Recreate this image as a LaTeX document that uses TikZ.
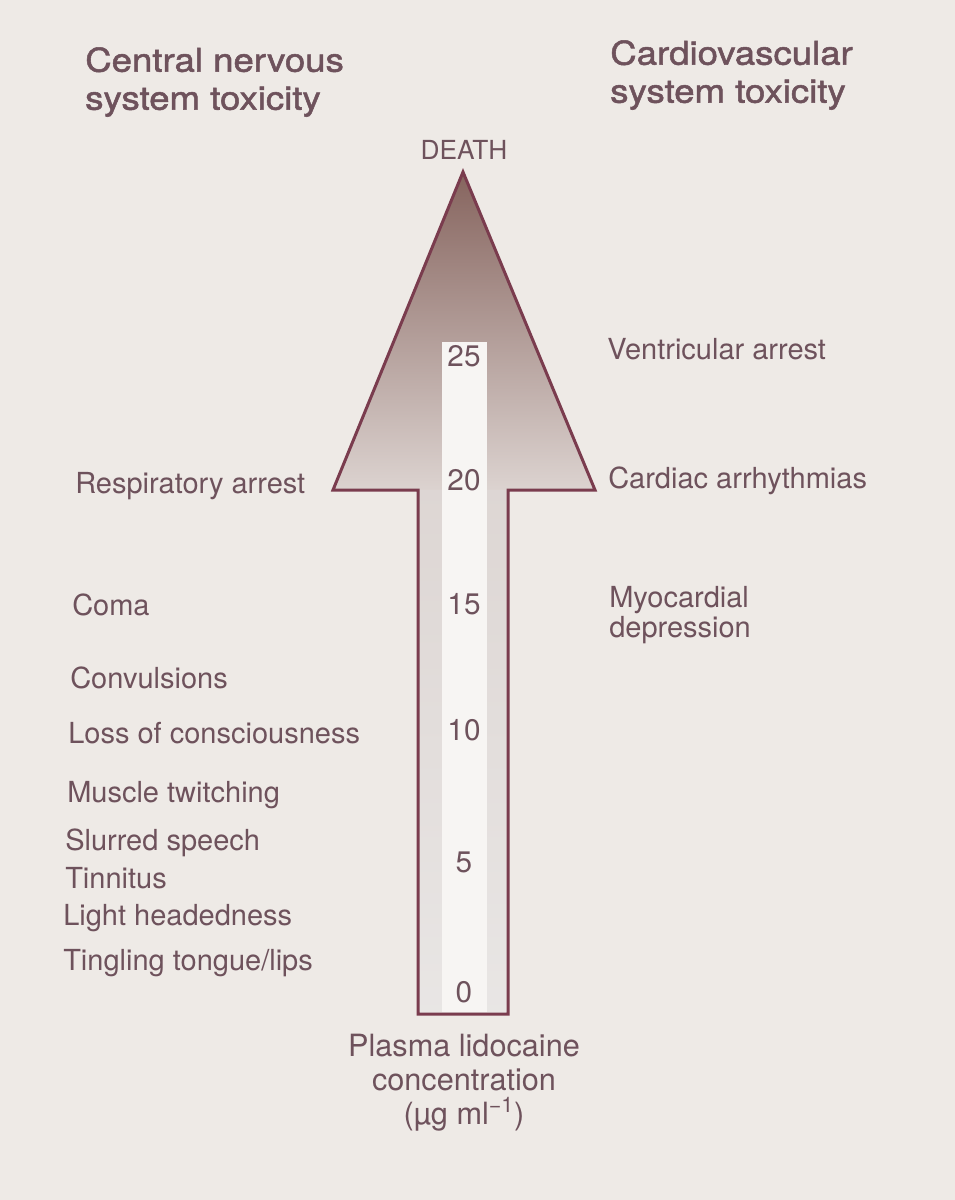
\documentclass[tikz,border=0pt]{standalone}
\usepackage{fontspec}
\setmainfont{TeX Gyre Heros}
\newfontfamily\headfont[FakeStretch=1.12,FakeBold=1.6]{TeX Gyre Heros}
\usetikzlibrary{calc, positioning}

\begin{document}
\begin{tikzpicture}[x=0.75pt,y=-0.75pt]
\definecolor{paper}{HTML}{EEEAE6}
\definecolor{outline}{HTML}{7A3C4E}
\definecolor{labeltext}{HTML}{6E525C}
\definecolor{headtop}{HTML}{86645E}
\definecolor{headlow}{HTML}{DCD3D0}
\definecolor{shaftgray}{HTML}{DFDBD9}
\definecolor{stripwhite}{HTML}{F7F5F3}
\tikzset{
  lbl/.style={anchor=base west, inner sep=0pt, text=labeltext,
    font=\fontsize{21.75}{22.5}\selectfont},
  hdr/.style={anchor=north west, inner sep=0pt, align=left, text=labeltext,
    font=\headfont\fontsize{24.5}{28.5}\selectfont},
  num/.style={anchor=base, inner sep=0pt, text=labeltext,
    font=\fontsize{22.3}{24}\selectfont},
}
\useasboundingbox (0,0) rectangle (955,1200);
\fill[paper] (0,0) rectangle (955,1200);

\coordinate (tip) at (463,172);
\coordinate (barbL) at (333,490);
\coordinate (barbR) at (595,490);
\coordinate (SL) at (418,490);
\coordinate (SR) at (508,490);
\coordinate (BL) at (418,1014);
\coordinate (BR) at (508,1014);

% arrow body
\shade[top color=headtop, bottom color=headlow] (tip) -- (barbR) -- (barbL) -- cycle;
\shade[top color=headlow!60!shaftgray, bottom color=shaftgray!70!white] (SL) rectangle (BR);
\fill[stripwhite] (442,342) rectangle (487,1012);
\draw[outline, line width=2.25pt, line join=miter]
  (tip) -- (barbR) -- (SR) -- (BR) -- (BL) -- (SL) -- (barbL) -- cycle;

% scale
\foreach \v/\y in {0/1002,5/872,10/740,15/614,20/490,25/366}{
  \node[num] (n\v) at (464,\y) {\v};
}
\node[num, font=\fontsize{19.7}{22}\selectfont] (death) at (464,159) {DEATH};
\node[anchor=north, inner sep=0pt, align=center, text=labeltext,
  font=\fontsize{23}{25.5}\selectfont] (conc) at (464,1034)
  {Plasma lidocaine\\concentration\\(µg ml\textsuperscript{−1})};

% headings
\node[hdr] (cnshead) at (85,47) {Central nervous\\system toxicity};
\node[hdr] (cvshead) at (610,40) {Cardiovascular\\system toxicity};

% CNS signs
\node[lbl] (resp) at (75,493) {Respiratory arrest};
\node[lbl] (coma) at (72,615) {Coma};
\node[lbl] (conv) at (70,688) {Convulsions};
\node[lbl] (loss) at (68,743) {Loss of consciousness};
\node[lbl] (twitch) at (67,802) {Muscle twitching};
\node[lbl] (slur) at (65,850) {Slurred speech};
\node[lbl] (tinn) at (65,888) {Tinnitus};
\node[lbl] (light) at (63,925) {Light headedness};
\node[lbl] (tingle) at (63,970) {Tingling tongue/lips};

% CVS signs
\node[lbl] (vent) at (607,359) {Ventricular arrest};
\node[lbl] (arrh) at (608,488) {Cardiac arrhythmias};
\node[lbl, anchor=north west, align=left] (myo) at (609,586) {Myocardial\\depression};
\end{tikzpicture}
\end{document}
